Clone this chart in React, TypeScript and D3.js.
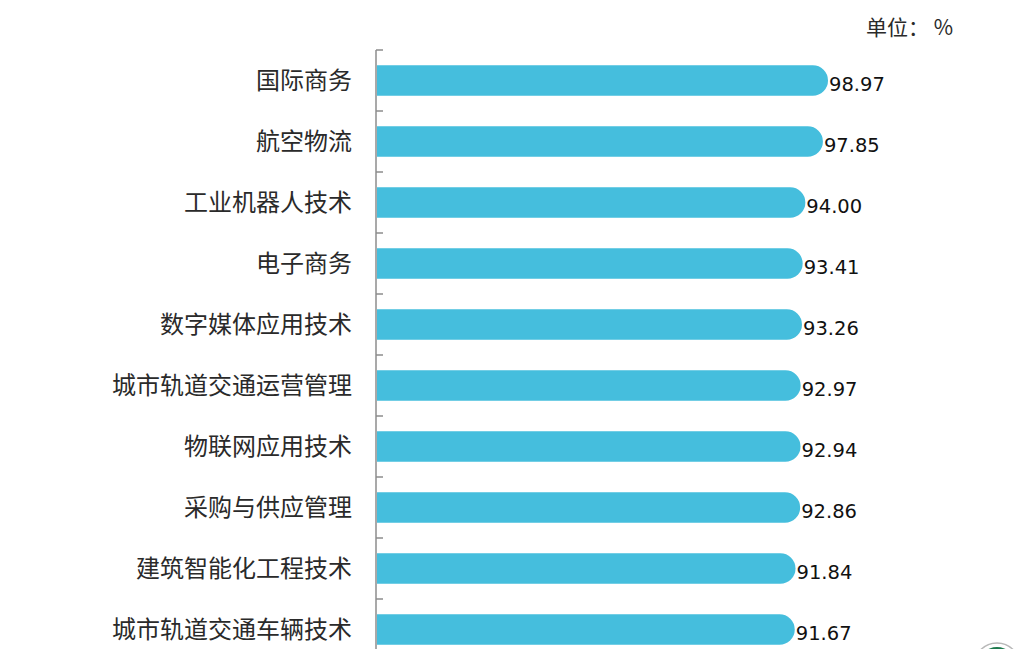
import React, { useRef, useEffect } from 'react';
import * as d3 from 'd3';

// Majors (top to bottom) and their rates, in %
const categories = [
  '国际商务',
  '航空物流',
  '工业机器人技术',
  '电子商务',
  '数字媒体应用技术',
  '城市轨道交通运营管理',
  '物联网应用技术',
  '采购与供应管理',
  '建筑智能化工程技术',
  '城市轨道交通车辆技术',
];
const values = [98.97, 97.85, 94.0, 93.41, 93.26, 92.97, 92.94, 92.86, 91.84, 91.67];
const unitLabel = '单位： %';

const App: React.FC = () => {
  const chartRef = useRef<SVGSVGElement | null>(null);

  useEffect(() => {
    if (!chartRef.current) return;

    const svg = d3.select(chartRef.current);
    svg.selectAll('*').remove();

    const width = 1024;
    const height = 649;
    const axisX = 376;

    const data = categories.map((c, i) => ({ category: c, value: values[i] }));

    // Y scale: bands of 61px starting at the top tick
    const y = d3.scaleBand()
      .domain(categories)
      .range([50, 50 + 61 * categories.length])
      .paddingInner(0.5)
      .paddingOuter(0.25);

    // X scale: 0 sits on the axis line
    const x = d3.scaleLinear()
      .domain([0, 100])
      .range([axisX + 1, axisX + 1 + 455.7]);

    svg.attr('width', width).attr('height', height);

    // Bars with rounded right end
    const bh = y.bandwidth();
    const r = bh / 2;
    svg.append('g')
      .selectAll('path')
      .data(data)
      .join('path')
      .attr('fill', '#45bedd')
      .attr('d', d => {
        const x0 = x(0);
        const x1 = x(d.value);
        const y0 = y(d.category) || 0;
        const p = d3.path();
        p.moveTo(x0, y0);
        p.lineTo(x1 - r, y0);
        p.arc(x1 - r, y0 + r, r, -Math.PI / 2, Math.PI / 2);
        p.lineTo(x0, y0 + bh);
        p.closePath();
        return p.toString();
      });

    // Axis line and ticks at band boundaries
    const step = y.step();
    const tickYs = d3.range(categories.length + 1).map(i => 50 + i * step);
    svg.append('line')
      .attr('x1', axisX).attr('x2', axisX)
      .attr('y1', 50).attr('y2', height)
      .attr('stroke', '#8c8c8c')
      .attr('stroke-width', 1.5);
    svg.append('g')
      .selectAll('line')
      .data(tickYs)
      .join('line')
      .attr('x1', axisX).attr('x2', axisX + 7)
      .attr('y1', d => d).attr('y2', d => d)
      .attr('stroke', '#8c8c8c')
      .attr('stroke-width', 1.5);

    // Category labels
    svg.append('g')
      .selectAll('text')
      .data(data)
      .join('text')
      .attr('x', 352)
      .attr('y', d => (y(d.category) || 0) + bh / 2)
      .attr('dy', '0.36em')
      .attr('text-anchor', 'end')
      .attr('font-family', '"Noto Sans CJK SC", sans-serif')
      .attr('font-size', 24)
      .attr('fill', '#2a2a2a')
      .text(d => d.category);

    // Value labels
    svg.append('g')
      .selectAll('text')
      .data(data)
      .join('text')
      .attr('x', d => x(d.value) + 1)
      .attr('y', d => (y(d.category) || 0) + bh / 2)
      .attr('dy', '0.55em')
      .attr('font-family', '"DejaVu Sans", sans-serif')
      .attr('font-size', 19.5)
      .attr('fill', '#111')
      .text(d => d.value.toFixed(2));

    // Unit
    svg.append('text')
      .attr('x', 866)
      .attr('y', 35)
      .attr('font-family', '"Noto Sans CJK SC", sans-serif')
      .attr('font-size', 21)
      .attr('fill', '#2a2a2a')
      .attr('xml:space', 'preserve')
      .style('white-space', 'pre')
      .text(unitLabel);

    // Logo peeking in at the bottom right
    svg.append('circle')
      .attr('cx', 997).attr('cy', 666).attr('r', 23)
      .attr('fill', '#fff').attr('stroke', '#b8b8b8').attr('stroke-width', 1.5);
    svg.append('circle')
      .attr('cx', 997).attr('cy', 666).attr('r', 19)
      .attr('fill', '#1e7a4e');
  }, []);

  return (
    <svg ref={chartRef} style={{ position: 'absolute', left: 0, top: 0, background: '#fff' }} />
  );
};

export default App;
